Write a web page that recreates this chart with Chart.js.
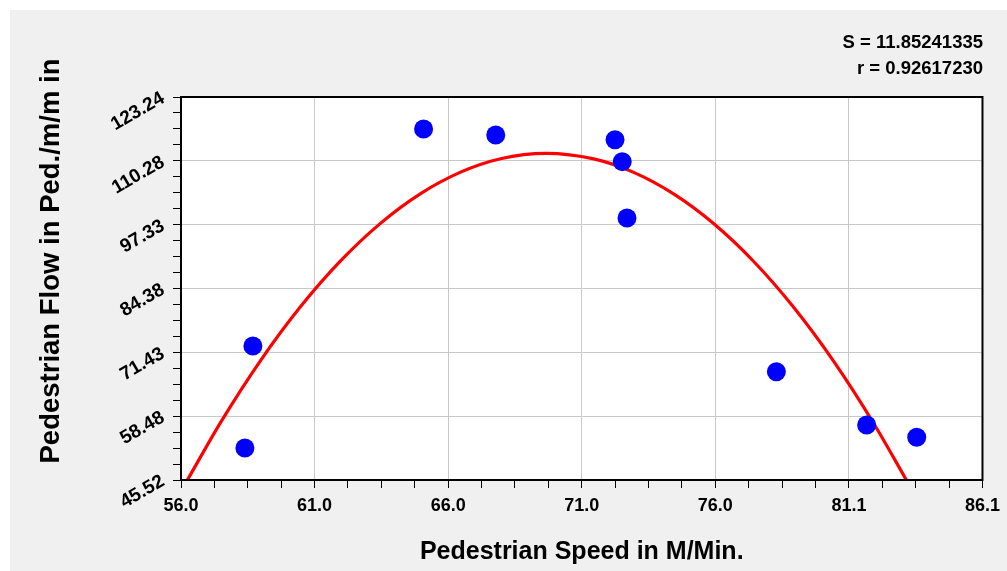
<!DOCTYPE html>
<html>
<head>
<meta charset="utf-8">
<script src="https://cdn.jsdelivr.net/npm/chart.js@4/dist/chart.umd.min.js"></script>
<style>
  html, body { margin: 0; padding: 0; background: #ffffff; }
  #wrap { width: 1007px; height: 571px; position: relative; }
</style>
</head>
<body>
<div id="wrap"><canvas id="c" width="1007" height="571"></canvas></div>
<script>
// ---- data ----
const speedObs = [58.70, 58.40, 65.11, 67.82, 72.30, 72.57, 72.75, 78.36, 81.75, 83.63];
const flowObs  = [72.71, 52.01, 116.75, 115.52, 114.58, 110.12, 98.69, 67.50, 56.68, 54.18];

const fitSpeed = [56.24, 57.5, 59.0, 60.5, 62.0, 63.5, 65.0, 66.5, 68.0, 69.7, 71.5, 73.0, 74.5, 76.0, 77.5, 79.0, 80.5, 82.0, 83.24];
const fitFlow  = [45.52, 57.32, 69.86, 80.76, 90.02, 97.65, 103.64, 107.99, 110.71, 111.81, 110.68, 107.94, 103.57, 97.56, 89.91, 80.62, 69.70, 57.14, 45.53];

const xTickLabels = ['56.0', '61.0', '66.0', '71.0', '76.0', '81.1', '86.1'];
const yTickLabels = ['45.52', '58.48', '71.43', '84.38', '97.33', '110.28', '123.24'];
const xMin = 56.0, xMax = 86.1;
const yMin = 45.52, yMax = 123.24;
const statLines = ['S = 11.85241335', 'r = 0.92617230'];
const xTitle = 'Pedestrian Speed in M/Min.';
const yTitle = 'Pedestrian Flow in Ped./m/m in';

const FONT = '"Liberation Sans", Arial, Helvetica, sans-serif';
const SUB = 4; // minor subdivisions

function buildTicks(scale, min, max, n) {
  const ticks = [];
  const total = n * SUB;
  for (let i = 0; i <= total; i++) ticks.push({ value: min + (max - min) * i / total });
  scale.ticks = ticks;
}

const bgPlugin = {
  id: 'bg',
  beforeDraw(chart) {
    const ctx = chart.ctx;
    const a = chart.chartArea;
    ctx.save();
    ctx.fillStyle = '#ffffff';
    ctx.fillRect(0, 0, chart.width, chart.height);
    ctx.fillStyle = '#f0f0f0';
    ctx.fillRect(10, 10, chart.width - 10, chart.height - 10);
    ctx.fillStyle = '#ffffff';
    ctx.fillRect(a.left, a.top, a.right - a.left, a.bottom - a.top);
    ctx.restore();
  },
  afterDraw(chart) {
    const ctx = chart.ctx;
    const a = chart.chartArea;
    ctx.save();
    ctx.strokeStyle = '#000000';
    ctx.lineWidth = 2;
    ctx.strokeRect(a.left, a.top, a.right - a.left, a.bottom - a.top);
    ctx.fillStyle = '#000000';
    ctx.font = 'bold 18.5px ' + FONT;
    ctx.textAlign = 'right';
    ctx.textBaseline = 'alphabetic';
    ctx.fillText(statLines[0], 983, 48);
    ctx.fillText(statLines[1], 983, 74);
    ctx.font = 'bold 27.5px ' + FONT;
    ctx.translate(59, 261);
    ctx.rotate(-Math.PI / 2);
    ctx.textAlign = 'center';
    ctx.fillText(yTitle, 0, 0);
    ctx.restore();
  }
};

const gridColor = (c) => (c.index % SUB === 0 ? '#c8c8c8' : 'rgba(0,0,0,0)');

new Chart(document.getElementById('c'), {
  type: 'scatter',
  data: {
    datasets: [
      {
        type: 'line',
        label: 'fit',
        data: fitSpeed.map((x, i) => ({ x, y: fitFlow[i] })),
        borderColor: '#ff0000',
        borderWidth: 3.2,
        pointRadius: 0,
        fill: false,
        tension: 0.4,
        cubicInterpolationMode: 'monotone',
        order: 2
      },
      {
        label: 'observed',
        data: speedObs.map((x, i) => ({ x, y: flowObs[i] })),
        backgroundColor: '#0000ff',
        borderWidth: 0,
        pointRadius: 9.5,
        pointHoverRadius: 9.5,
        order: 1
      }
    ]
  },
  options: {
    responsive: false,
    animation: false,
    events: [],
    layout: { padding: { left: 0, right: 22, top: 97, bottom: 0 } },
    plugins: { legend: { display: false }, tooltip: { enabled: false }, title: { display: false } },
    scales: {
      x: {
        type: 'linear',
        min: xMin, max: xMax,
        afterBuildTicks: (s) => buildTicks(s, xMin, xMax, xTickLabels.length - 1),
        afterFit: (s) => { s.height = 91; },
        grid: { color: gridColor, tickColor: '#000000', tickLength: 8, lineWidth: 1 },
        border: { color: '#000000', width: 2 },
        ticks: {
          autoSkip: false, maxRotation: 0, minRotation: 0, padding: 7,
          color: '#000000',
          font: { family: FONT, size: 18, weight: 'bold' },
          callback: (v, i) => (i % SUB === 0 ? xTickLabels[i / SUB] : '')
        },
        title: {
          display: true, text: xTitle, color: '#000000',
          font: { family: FONT, size: 25, weight: 'bold' },
          padding: { top: 0, bottom: 4 }
        }
      },
      y: {
        type: 'linear',
        min: yMin, max: yMax,
        afterBuildTicks: (s) => buildTicks(s, yMin, yMax, yTickLabels.length - 1),
        afterFit: (s) => { s.width = 181; },
        grid: { color: gridColor, tickColor: '#000000', tickLength: 8, lineWidth: 1 },
        border: { color: '#000000', width: 2 },
        ticks: {
          autoSkip: false, minRotation: 30, maxRotation: 30, padding: 10,
          color: '#000000',
          font: { family: FONT, size: 19, weight: 'bold' },
          callback: (v, i) => (i % SUB === 0 ? yTickLabels[i / SUB] : '')
        }
      }
    }
  },
  plugins: [bgPlugin]
});
</script>
</body>
</html>
